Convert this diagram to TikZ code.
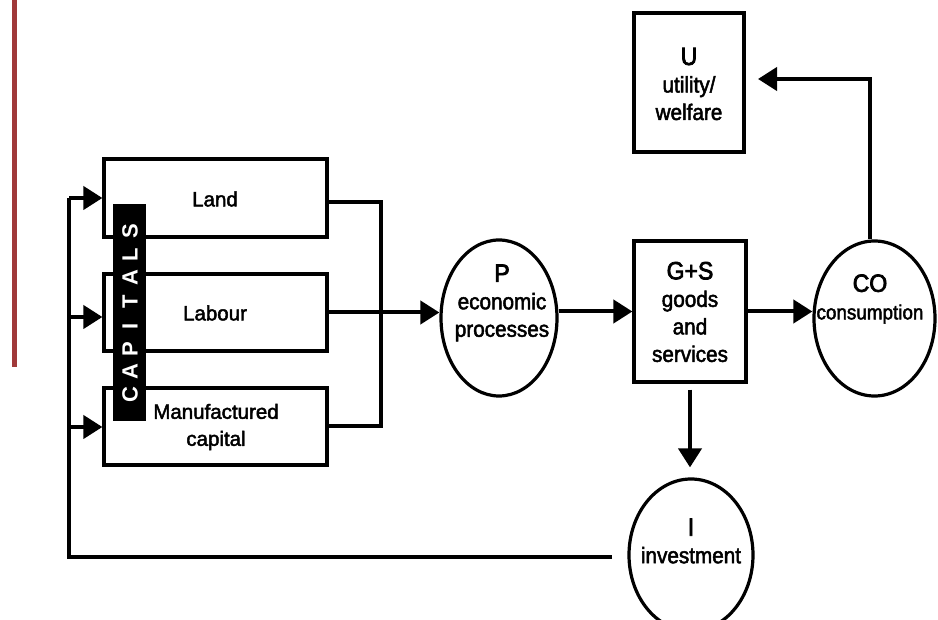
\documentclass[tikz,border=0pt]{standalone}
\usepackage{fontspec}
\setmainfont{Liberation Sans}
\newfontfamily\boxfont[FakeBold=2.2]{Liberation Sans}
\newfontfamily\condfont[FakeStretch=0.92,FakeBold=2.2]{Liberation Sans}
\newfontfamily\headfont[FakeStretch=0.92,FakeBold=3]{Liberation Sans}
\usetikzlibrary{arrows.meta,shapes.geometric}
\definecolor{barred}{RGB}{160,57,58}
\begin{document}
\begin{tikzpicture}[x=1pt,y=-1pt,
  box/.style={draw,line width=3.2pt,inner sep=0pt},
  ell/.style={draw,ellipse,line width=3.2pt,inner sep=0pt},
  conn/.style={line width=4pt,line join=miter},
  arr/.style={line width=4pt,line join=miter,-{Triangle[length=19pt,width=23pt]}},
  lbl/.style={font=\boxfont\fontsize{20.5}{27}\selectfont,align=center,inner sep=0pt},
  clbl/.style={font=\condfont\fontsize{22.5}{27.5}\selectfont,align=center,inner sep=0pt},
  caplet/.style={font=\fontsize{22}{24}\selectfont\bfseries,text=white,rotate=90,inner sep=0pt},
]
\useasboundingbox (0,0) rectangle (938,620);
\fill[barred] (12,0) rectangle (17,367);

% boxes
\node[box,minimum width=223pt,minimum height=78pt] (Land) at (215.5,198) {};
\node[box,minimum width=223pt,minimum height=77pt] (Labour) at (215.5,312.5) {};
\node[box,minimum width=223pt,minimum height=77pt] (Manuf) at (215.5,426.5) {};
\node[box,minimum width=112pt,minimum height=141pt] (GS) at (690,311.5) {};
\node[box,minimum width=110pt,minimum height=139pt] (U) at (689,82.5) {};

% ellipses
\node[ell,minimum width=116pt,minimum height=156pt] (P) at (499,318) {};
\node[ell,minimum width=121pt,minimum height=155pt] (CO) at (874.5,318.5) {};
\node[ell,minimum width=124pt,minimum height=152pt] (I) at (691,555) {};

% texts
\node[lbl] (tLand) at (215,199) {Land};
\node[lbl] (tLabour) at (215,313) {Labour};
\node[lbl] (tManuf) at (216,427) {Manufactured\\capital};
\node[clbl] (tP) at (502,303) {{\headfont\fontsize{25}{27.5}\selectfont P}\\economic\\processes};
\node[clbl] (tGS) at (690,312) {{\headfont\fontsize{25}{27.5}\selectfont G+S}\\goods\\and\\services};
\node[clbl] (tCO) at (870,299) {{\headfont\fontsize{25}{27.5}\selectfont CO}\\{\fontsize{20.5}{27.5}\selectfont consumption}};
\node[clbl] (tU) at (689,84) {{\headfont\fontsize{25}{27.5}\selectfont U}\\utility/\\welfare};
\node[clbl] (tI) at (691,541) {{\headfont\fontsize{25}{27.5}\selectfont I}\\investment};

% CAPITALS bar
\fill[black] (113,204) rectangle (146,421);
\foreach \l/\yy [count=\k] in {C/395,A/372,P/349,I/326,T/302,A/278,L/255,S/231}
  \node[caplet] (cap\k) at (130,\yy) {\l};

% junction coordinates
\coordinate (ie) at (612,557);
\coordinate (lb) at (69,557);
\coordinate (j1) at (69,198);
\coordinate (j2) at (69,317);
\coordinate (j3) at (69,427);
\coordinate (r1) at (381,202);
\coordinate (r2) at (381,426);
\coordinate (uc) at (870,79);
\coordinate (ut) at (758,79);

% connectors
\draw[conn] (ie) -- (lb) -- (j1);
\draw[arr] (j1) -- (Land.west);
\draw[arr] (j2) -- (j2 -| Labour.west);
\draw[arr] (j3) -- (j3 -| Manuf.west);
\draw[conn] (Land.east |- r1) -- (r1) -- (r2) -- (Manuf.east |- r2);
\draw[arr] (Labour.east) -- (Labour.east -| P.west);
\draw[arr] (P.east |- GS.west) -- (GS.west);
\draw[arr] (GS.east) -- (GS.east -| CO.west);
\draw[arr] (uc |- CO.north) -- (uc) -- (ut);
\draw[arr,shorten <=6pt,shorten >=10pt] (GS.south) -- (GS.south |- I.north);
\end{tikzpicture}
\end{document}
